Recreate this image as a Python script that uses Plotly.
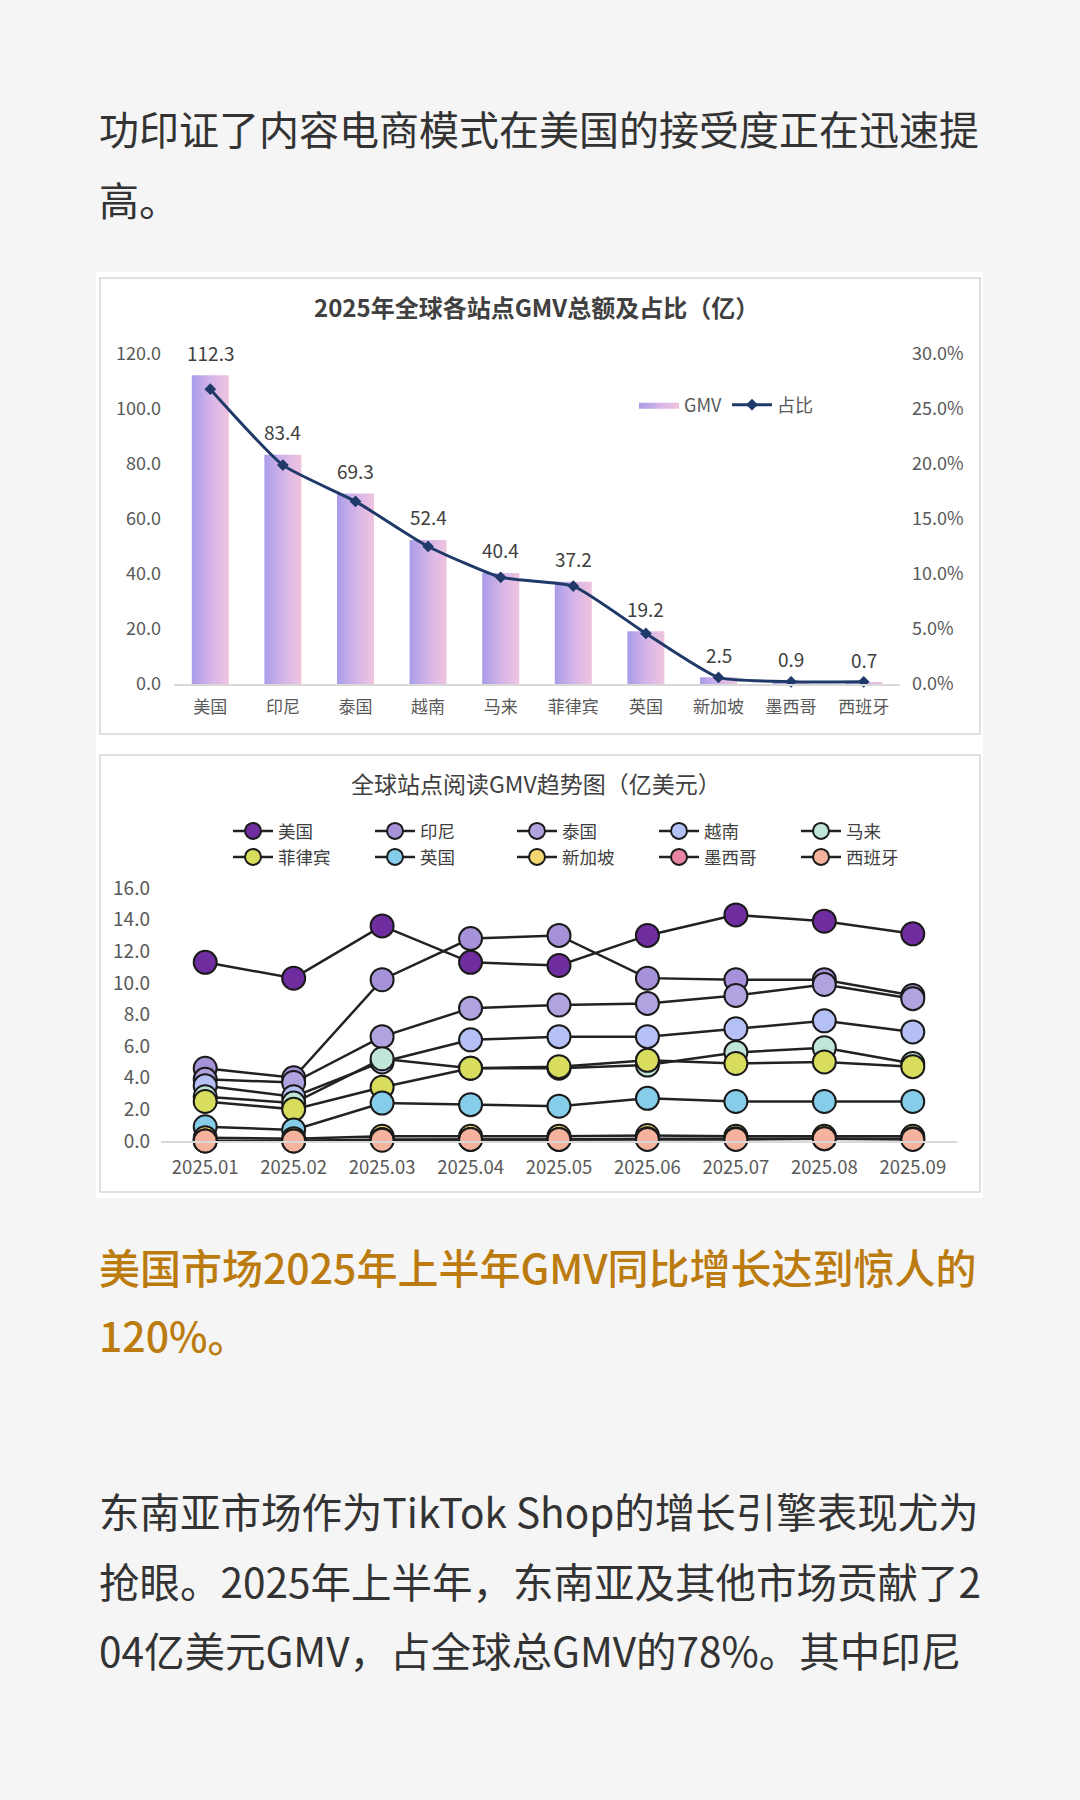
import plotly.graph_objects as go

# ---------------- data ----------------
page_text_top = ["功印证了内容电商模式在美国的接受度正在迅速提", "高。"]
page_text_highlight = ["美国市场2025年上半年GMV同比增长达到惊人的", "120%。"]
page_text_bottom = [
    "东南亚市场作为TikTok Shop的增长引擎表现尤为",
    "抢眼。2025年上半年，东南亚及其他市场贡献了2",
    "04亿美元GMV，占全球总GMV的78%。其中印尼",
]

chart1_title = "2025年全球各站点GMV总额及占比（亿）"
sites = ["美国", "印尼", "泰国", "越南", "马来", "菲律宾", "英国", "新加坡", "墨西哥", "西班牙"]
gmv_total = [112.3, 83.4, 69.3, 52.4, 40.4, 37.2, 19.2, 2.5, 0.9, 0.7]
gmv_share = [26.8, 19.9, 16.6, 12.5, 9.7, 8.9, 4.6, 0.6, 0.2, 0.2]
left_ticks = [0, 20, 40, 60, 80, 100, 120]
right_ticks = [0, 5, 10, 15, 20, 25, 30]

chart2_title = "全球站点阅读GMV趋势图（亿美元）"
months = ["2025.01", "2025.02", "2025.03", "2025.04", "2025.05",
          "2025.06", "2025.07", "2025.08", "2025.09"]
trend_us = [11.3, 10.3, 13.6, 11.3, 11.1, 13.0, 14.3, 13.9, 13.1]
trend_id = [4.6, 4.0, 10.2, 12.8, 13.0, 10.3, 10.2, 10.2, 9.2]
trend_th = [3.9, 3.7, 6.6, 8.4, 8.6, 8.7, 9.2, 9.9, 9.0]
trend_vn = [3.5, 2.8, 5.0, 6.4, 6.6, 6.6, 7.1, 7.6, 6.9]
trend_my = [2.8, 2.4, 5.2, 4.6, 4.6, 4.8, 5.6, 5.9, 4.9]
trend_ph = [2.5, 2.0, 3.4, 4.6, 4.7, 5.1, 4.9, 5.0, 4.7]
trend_uk = [0.9, 0.7, 2.4, 2.3, 2.2, 2.7, 2.5, 2.5, 2.5]
trend_sg = [0.2, 0.15, 0.3, 0.3, 0.3, 0.35, 0.3, 0.3, 0.3]
trend_mx = [0.0, 0.0, 0.1, 0.1, 0.1, 0.15, 0.15, 0.15, 0.15]
trend_es = [0.0, 0.0, 0.05, 0.1, 0.1, 0.1, 0.1, 0.15, 0.1]
trend_ticks = [0, 2, 4, 6, 8, 10, 12, 14, 16]

trend_series = [trend_us, trend_id, trend_th, trend_vn, trend_my,
                trend_ph, trend_uk, trend_sg, trend_mx, trend_es]

# ---------------- styles ----------------
W, H = 1080, 1800
FONT = "Noto Sans CJK SC, Noto Sans, sans-serif"
trend_colors = ["#6f2da0", "#a592d8", "#b1a2e0", "#b4c0f6", "#c0e6d9",
                "#d9dd5e", "#86cdea", "#f2d770", "#ea86a4", "#f5b29d"]


def px(x):
    return x / W


def py(y):
    return 1 - y / H


fig = go.Figure()

# ---- chart 1 : bars (gradient filled) ----
hw = 0.255
for i, v in enumerate(gmv_total):
    fig.add_trace(go.Scatter(
        x=[i - hw, i + hw, i + hw, i - hw, i - hw],
        y=[0, 0, v, v, 0],
        mode="lines", fill="toself",
        fillgradient=dict(type="horizontal",
                          colorscale=[[0, "#a99ce9"], [0.5, "#d4b4e8"], [1, "#f0c4df"]]),
        line=dict(width=0, color="rgba(0,0,0,0)"),
        name="GMV", showlegend=(i == 0), legend="legend",
        hoverinfo="skip", xaxis="x", yaxis="y",
    ))

fig.add_trace(go.Scatter(
    x=list(range(len(sites))), y=gmv_share,
    mode="lines+markers", name="占比",
    line=dict(color="#1f3a68", width=3, shape="spline", smoothing=0.5),
    marker=dict(symbol="diamond", size=9, color="#1f3a68"),
    xaxis="x", yaxis="y2", legend="legend", cliponaxis=False,
))

# ---- chart 2 : trend lines ----
for idx, (name, vals, col) in enumerate(zip(sites, trend_series, trend_colors)):
    fig.add_trace(go.Scatter(
        x=months, y=vals, mode="lines+markers", name=name,
        line=dict(color="#222222", width=2.5),
        marker=dict(size=23, color=col, line=dict(color="#1a1a1a", width=2)),
        xaxis="x3", yaxis="y3", cliponaxis=False,
        legend="legend2" if idx < 5 else "legend3",
    ))

annotations = []
# bar value labels
for i, v in enumerate(gmv_total):
    annotations.append(dict(
        x=i, y=v, xref="x", yref="y", text=f"{v:.1f}", showarrow=False,
        yshift=23, font=dict(size=19, color="#404040", family=FONT)))

# chart titles
annotations.append(dict(x=px(536), y=py(306), xref="paper", yref="paper",
                        xanchor="center", yanchor="middle",
                        text=f"<b>{chart1_title}</b>", showarrow=False,
                        font=dict(size=24, color="#404040", family=FONT)))
annotations.append(dict(x=px(536), y=py(783), xref="paper", yref="paper",
                        xanchor="center", yanchor="middle",
                        text=chart2_title, showarrow=False,
                        font=dict(size=23, color="#404040", family=FONT)))

# page text
for txt, yy in zip(page_text_top, [128, 199]):
    annotations.append(dict(x=px(97), y=py(yy), xref="paper", yref="paper",
                            xanchor="left", yanchor="middle", text=txt, showarrow=False,
                            font=dict(size=40, color="#333333", family=FONT)))
for txt, yy in zip(page_text_highlight, [1266, 1334]):
    annotations.append(dict(x=px(97), y=py(yy), xref="paper", yref="paper",
                            xanchor="left", yanchor="middle", text=txt, showarrow=False,
                            font=dict(size=41, color="#bb7b0e", family=FONT, weight=500)))
for txt, yy in zip(page_text_bottom, [1510, 1580, 1649]):
    annotations.append(dict(x=px(97), y=py(yy), xref="paper", yref="paper",
                            xanchor="left", yanchor="middle", text=txt, showarrow=False,
                            font=dict(size=40.5, color="#333333", family=FONT)))

shapes = [
    dict(type="rect", xref="paper", yref="paper", x0=px(96), x1=px(983),
         y0=py(1198), y1=py(272), fillcolor="#ffffff", line=dict(width=0), layer="below"),
    dict(type="rect", xref="paper", yref="paper", x0=px(100), x1=px(980),
         y0=py(734), y1=py(278), fillcolor="rgba(0,0,0,0)",
         line=dict(color="#d6d6d6", width=1.5), layer="below"),
    dict(type="rect", xref="paper", yref="paper", x0=px(100), x1=px(980),
         y0=py(1192), y1=py(755), fillcolor="rgba(0,0,0,0)",
         line=dict(color="#d6d6d6", width=1.5), layer="below"),
]

tick1 = dict(size=18, color="#595959", family=FONT)
tick1x = dict(size=17, color="#595959", family=FONT)
tick2 = dict(size=18.5, color="#595959", family=FONT)

fig.update_layout(
    width=W, height=H,
    margin=dict(l=0, r=0, t=0, b=0, pad=0, autoexpand=False),
    paper_bgcolor="#f5f5f5", plot_bgcolor="rgba(0,0,0,0)",
    font=dict(family=FONT, color="#404040"),
    showlegend=True,
    annotations=annotations, shapes=shapes,
    xaxis=dict(domain=[px(174), px(900)], anchor="y", range=[-0.5, 9.5],
               tickvals=list(range(len(sites))), ticktext=sites,
               showgrid=False, zeroline=False, showline=True, automargin=False,
               linecolor="#d9d9d9", linewidth=1.5, ticks="",
               ticklabelstandoff=7, tickfont=tick1x, fixedrange=True),
    yaxis=dict(domain=[py(684), py(354)], anchor="x", range=[0, 120],
               tickvals=left_ticks, tickformat=".1f", showgrid=False, automargin=False,
               zeroline=False, ticks="", ticklabelstandoff=12, tickfont=tick1),
    yaxis2=dict(overlaying="y", side="right", anchor="x", range=[0, 30],
                tickvals=right_ticks, ticktext=[f"{t:.1f}%" for t in right_ticks],
                showgrid=False, zeroline=False, ticks="", ticklabelstandoff=11,
                automargin=False, tickfont=tick1),
    xaxis3=dict(domain=[px(161), px(957)], anchor="y3", type="category",
                range=[-0.5, 8.5], showgrid=False, zeroline=False, showline=True,
                automargin=False,
                linecolor="#d9d9d9", linewidth=1.5, ticks="", ticklabelstandoff=9,
                tickfont=tick2),
    yaxis3=dict(domain=[py(1141), py(888)], anchor="x3", range=[0, 16],
                tickvals=trend_ticks, tickformat=".1f", showgrid=False,
                zeroline=False, ticks="", ticklabelstandoff=10, automargin=False,
                tickfont=dict(size=19, color="#595959", family=FONT)),
    legend=dict(x=px(634), y=py(405), xanchor="left", yanchor="middle",
                orientation="h", bgcolor="rgba(0,0,0,0)", itemwidth=40,
                font=dict(size=18, color="#595959", family=FONT)),
    legend2=dict(x=px(228), y=py(831), xanchor="left", yanchor="middle",
                 orientation="h", bgcolor="rgba(0,0,0,0)", itemwidth=40,
                 entrywidth=87, entrywidthmode="pixels",
                 font=dict(size=17.5, color="#404040", family=FONT)),
    legend3=dict(x=px(228), y=py(857), xanchor="left", yanchor="middle",
                 orientation="h", bgcolor="rgba(0,0,0,0)", itemwidth=40,
                 entrywidth=87, entrywidthmode="pixels",
                 font=dict(size=17.5, color="#404040", family=FONT)),
)

fig.write_html("out.html")
